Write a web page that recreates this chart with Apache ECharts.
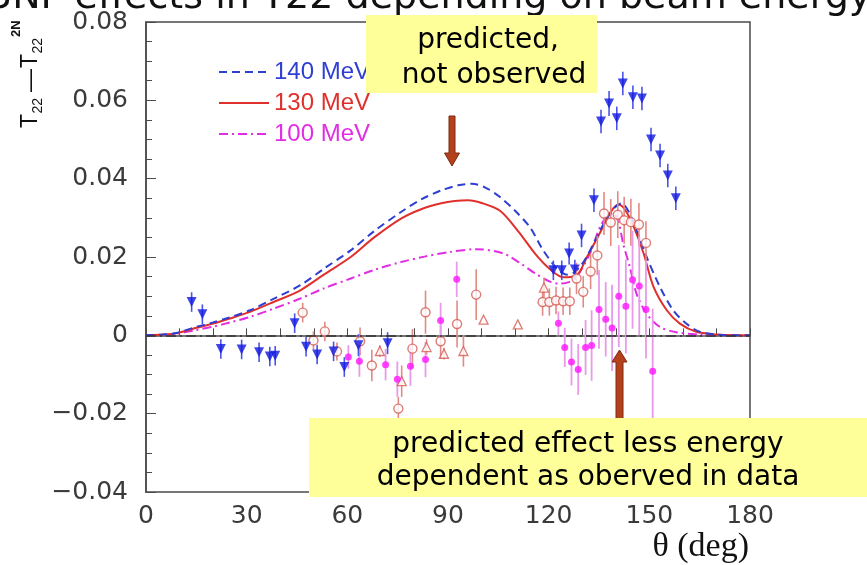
<!DOCTYPE html>
<html>
<head>
<meta charset="utf-8">
<script src="https://cdn.jsdelivr.net/npm/echarts@6/dist/echarts.min.js"></script>
<style>
  html, body { margin: 0; padding: 0; background: #ffffff; }
  #chart { width: 867px; height: 565px; }
</style>
</head>
<body>
<div id="chart"></div>
<script>
// Axis ticks (degrees / T22 difference)
const xTickStep = 30;
const yTickStep = 0.02;

// Calculated 3NF effect curves: [theta (deg), T22 - T22(2N)]
const curve140 = [[0,0],[5,0.0002],[9,0.0006],[14,0.0019],[20,0.0033],[25,0.0046],[31,0.0064],[38,0.0093],[46,0.0128],[53,0.0170],[61,0.0217],[68,0.0266],[76,0.0315],[82,0.0347],[88,0.0370],[93,0.0383],[97,0.0387],[101,0.0378],[105.5,0.0353],[110,0.0318],[114.5,0.0275],[118,0.0222],[121.5,0.0180],[123.5,0.0163],[125.5,0.0155],[127.5,0.0160],[129.5,0.0177],[131.5,0.0203],[134,0.0245],[137,0.0294],[139.5,0.0325],[141.7,0.0337],[143.7,0.0318],[146.2,0.0268],[149.2,0.0200],[153.2,0.0123],[157.1,0.0064],[161,0.0030],[165,0.0009],[170,0.0002],[175,0],[180,0]];
const curve130 = [[0,0],[5,0.0002],[9,0.0005],[14,0.0017],[20,0.0030],[25,0.0043],[31,0.0060],[38,0.0085],[46,0.0115],[53,0.0155],[61,0.0200],[68,0.0250],[76,0.0298],[82,0.0322],[88,0.0337],[92,0.0343],[96,0.0345],[100,0.0338],[105.5,0.0318],[111,0.0265],[116,0.0208],[120.5,0.0168],[124.5,0.0148],[128.5,0.0154],[131.3,0.0198],[135.3,0.0262],[138.5,0.0315],[140.8,0.0334],[142.8,0.0320],[145.4,0.0276],[148.3,0.0209],[151.2,0.0125],[155.2,0.0064],[159.1,0.0030],[164,0.0009],[170,0.0002],[175,0],[180,0]];
const curve100 = [[0,0],[5,0.0001],[9,0.0004],[14,0.0012],[20,0.0022],[25,0.0033],[31,0.0047],[38,0.0068],[46,0.0094],[53,0.0120],[61,0.0145],[68,0.0167],[76,0.0187],[83,0.0201],[90.6,0.0213],[98.5,0.0220],[106.5,0.0209],[111.4,0.0185],[116,0.0158],[120.4,0.0137],[123.4,0.0132],[126,0.0136],[128.3,0.0149],[132.3,0.0209],[135.3,0.0277],[137.5,0.0305],[139.2,0.0312],[140.8,0.0290],[142.2,0.0234],[144.2,0.0174],[146.2,0.0106],[149.2,0.0055],[153.2,0.0021],[158,0.0008],[165,0.0002],[172,0],[180,0]];

// Measured data: [theta, value, error]
const blueTriangles = [[13.6,0.0085,0.0025],[16.8,0.0054,0.0025],[22.3,-0.0035,0.0025],[28.5,-0.0036,0.0025],[33.7,-0.0043,0.0025],[36.9,-0.0054,0.0025],[38.5,-0.0052,0.0025],[44.3,0.0031,0.0025],[47.7,-0.0029,0.0025],[51.0,-0.0049,0.0025],[55.9,-0.0041,0.0025],[59.1,-0.0081,0.0025],[63.3,-0.0025,0.0028],[72.0,-0.0020,0.0028],[121.4,0.0166,0.0025],[123.9,0.0166,0.0025],[126.1,0.0209,0.0028],[127.8,0.0168,0.0025],[129.8,0.0255,0.0030],[133.5,0.0345,0.0030],[135.6,0.0546,0.0030],[138.0,0.0592,0.0032],[140.3,0.0554,0.0030],[142.1,0.0643,0.0030],[145.1,0.0608,0.0030],[147.8,0.0605,0.0030],[150.5,0.0500,0.0030],[153.2,0.0459,0.0030],[155.5,0.0408,0.0030],[157.9,0.0350,0.0030]];
const openCircles = [[46.7,0.0058,0.0025],[49.9,-0.0013,0.0023],[53.3,0.0010,0.0025],[56.9,-0.0041,0.0023],[63.8,-0.0015,0.0035],[67.3,-0.0077,0.0040],[75.2,-0.0187,0.0030],[79.4,-0.0034,0.0050],[83.3,0.0059,0.0055],[87.8,-0.0015,0.0045],[92.7,0.0029,0.0060],[98.4,0.0104,0.0065],[118.2,0.0085,0.0035],[120.2,0.0085,0.0035],[122.2,0.0089,0.0035],[124.3,0.0087,0.0035],[126.3,0.0087,0.0035],[128.3,0.0145,0.0040],[130.3,0.0111,0.0040],[132.5,0.0163,0.0045],[134.5,0.0204,0.0050],[136.5,0.0311,0.0055],[138.5,0.0288,0.0060],[140.6,0.0308,0.0060],[142.5,0.0294,0.0060],[144.5,0.0289,0.0060],[146.9,0.0283,0.0055],[149.0,0.0236,0.0055]];
const openTriangles = [[69.7,-0.0040,0.0015],[76.2,-0.0117,0.0040],[83.6,-0.0030,0.0020],[88.8,-0.0047,0.0015],[94.6,-0.0040,0.0040],[100.6,0.0040,0],[110.8,0.0028,0],[118.6,0.0122,0.0025]];
const magentaDots = [[60.3,-0.0055,0.0030],[63.6,-0.0066,0.0040],[71.4,-0.0075,0.0040],[74.9,-0.0112,0.0045],[78.8,-0.0079,0.0050],[83.3,-0.0062,0.0045],[87.8,0.0038,0.0045],[92.6,0.0143,0.0045],[122.9,0.0031,0.0030],[124.8,-0.0031,0.0050],[126.8,-0.0068,0.0060],[128.8,-0.0087,0.0065],[131.0,-0.0031,0.0070],[132.8,-0.0026,0.0090],[135.0,0.0066,0.0100],[137.0,0.0041,0.0095],[138.9,0.0019,0.0110],[140.9,0.0100,0.0130],[143.0,0.0074,0.0120],[145.0,0.0142,0.0125],[147.0,0.0126,0.0125],[149.0,0.0066,0.0125],[151.0,-0.0092,0.0160]];

const C140 = '#2f3fd2', C130 = '#e0302c', C100 = '#e22ee2';
const SANS = 'Liberation Sans, Arial, sans-serif';
const SLIDE = 'DejaVu Sans, Verdana, sans-serif';

// vertical error bars drawn through the axis scales
function errorBars(data, color, width) {
  return {
    type: 'custom', data: data, silent: true, z: 3,
    encode: { x: 0, y: 1 },
    renderItem: function (params, api) {
      const x = api.value(0), y = api.value(1), e = api.value(2);
      if (!e) return null;
      const a = api.coord([x, y + e]);
      const b = api.coord([x, y - e]);
      return { type: 'line', shape: { x1: a[0], y1: a[1], x2: b[0], y2: b[1] },
               style: { stroke: color, lineWidth: width } };
    }
  };
}

const chart = echarts.init(document.getElementById('chart'), null, { renderer: 'canvas' });

chart.setOption({
  animation: false,
  backgroundColor: '#ffffff',
  grid: { left: 146, right: 117, top: 22, bottom: 73, show: true,
          borderColor: '#4a4a4a', borderWidth: 1.5, backgroundColor: 'transparent' },
  xAxis: {
    type: 'value', min: 0, max: 180, interval: xTickStep,
    axisLine: { show: true, lineStyle: { color: '#4a4a4a', width: 1.5 } },
    axisTick: { show: true, inside: true, length: 7, lineStyle: { color: '#4a4a4a' } },
    minorTick: { show: true, splitNumber: 3, length: 7, lineStyle: { color: '#4a4a4a' } },
    splitLine: { show: false },
    axisLabel: { margin: 12, fontFamily: SLIDE, fontSize: 25, color: '#3a3a3a' }
  },
  yAxis: {
    type: 'value', min: -0.04, max: 0.08, interval: yTickStep,
    axisLine: { show: true, lineStyle: { color: '#4a4a4a', width: 1.5 } },
    axisTick: { show: true, inside: true, length: 10, lineStyle: { color: '#4a4a4a' } },
    minorTick: { show: true, splitNumber: 4, length: 6, lineStyle: { color: '#4a4a4a' } },
    splitLine: { show: false },
    axisLabel: {
      margin: 18, fontFamily: SLIDE, fontSize: 25, color: '#3a3a3a',
      formatter: function (v) {
        if (Math.abs(v) < 1e-9) return '0';
        return (v < 0 ? '\u22120' : '0') + Math.abs(v).toFixed(2).slice(1);
      }
    }
  },
  legend: {
    orient: 'vertical', left: 213, top: 55, itemWidth: 50, itemHeight: 14, itemGap: 7,
    selectedMode: false,
    itemStyle: { opacity: 0, color: 'transparent', borderWidth: 0 },
    textStyle: { fontFamily: SANS, fontSize: 24, lineHeight: 24 },
    data: [
      { name: '140 MeV', textStyle: { color: C140 } },
      { name: '130 MeV', textStyle: { color: C130 } },
      { name: '100 MeV', textStyle: { color: C100 } }
    ]
  },
  series: [
    {
      type: 'line', name: '100 MeV', data: curve100, showSymbol: false, symbol: 'none', smooth: 0.3, z: 2,
      lineStyle: { color: C100, width: 2, type: [9, 4, 2, 4] }, itemStyle: { color: C100 },
      markLine: {
        silent: true, symbol: 'none', label: { show: false },
        lineStyle: { color: '#333333', width: 1.5, type: [10, 4, 2, 4] },
        data: [{ yAxis: 0 }]
      }
    },
    {
      type: 'line', name: '130 MeV', data: curve130, showSymbol: false, symbol: 'none', smooth: 0.3, z: 2,
      lineStyle: { color: C130, width: 2 }, itemStyle: { color: C130 }
    },
    {
      type: 'line', name: '140 MeV', data: curve140, showSymbol: false, symbol: 'none', smooth: 0.3, z: 2,
      lineStyle: { color: C140, width: 2, type: [8, 5] }, itemStyle: { color: C140 }
    },
    errorBars(openCircles, '#e28a84', 1.6),
    errorBars(openTriangles, '#e28a84', 1.6),
    errorBars(magentaDots, '#e79ae7', 1.8),
    errorBars(blueTriangles, '#4a55e6', 1.6),
    {
      type: 'scatter', data: openCircles, encode: { x: 0, y: 1 }, z: 4,
      symbol: 'circle', symbolSize: 9,
      itemStyle: { color: '#ffffff', borderColor: '#d65a52', borderWidth: 1.4 }
    },
    {
      type: 'scatter', data: openTriangles, encode: { x: 0, y: 1 }, z: 4,
      symbol: 'triangle', symbolSize: 9,
      itemStyle: { color: '#ffffff', borderColor: '#d65a52', borderWidth: 1.3 }
    },
    {
      type: 'scatter', data: magentaDots, encode: { x: 0, y: 1 }, z: 4,
      symbol: 'circle', symbolSize: 7,
      itemStyle: { color: '#ff14ff' }
    },
    {
      type: 'scatter', data: blueTriangles, encode: { x: 0, y: 1 }, z: 4,
      symbol: 'triangle', symbolRotate: 180, symbolSize: [10, 10],
      itemStyle: { color: '#1018e0' }
    }
  ],
  graphic: [
    // slide heading, clipped by the top edge
    { type: 'text', x: -12, y: -2, z: 100,
      style: { text: '3NF effects in T22 depending on beam energy', font: '38px ' + SLIDE,
               fill: '#111111', verticalAlign: 'middle', align: 'left' } },
    // y axis title  T22 - T22^2N  (rotated)
    { type: 'group', x: 1, y: 0, rotation: Math.PI / 2, z: 100, children: [
      { type: 'text', x: -128, y: 29.5, style: { text: 'T', font: '23px ' + SANS, fill: '#111', align: 'left', verticalAlign: 'middle' } },
      { type: 'text', x: -113.5, y: 37, style: { text: '22', font: '14px ' + SANS, fill: '#111', align: 'left', verticalAlign: 'middle' } },
      { type: 'text', x: -92, y: 29.5, style: { text: '\u2014', font: '23px ' + SANS, fill: '#111', align: 'left', verticalAlign: 'middle' } },
      { type: 'text', x: -68, y: 29.5, style: { text: 'T', font: '23px ' + SANS, fill: '#111', align: 'left', verticalAlign: 'middle' } },
      { type: 'text', x: -53.5, y: 37, style: { text: '22', font: '14px ' + SANS, fill: '#111', align: 'left', verticalAlign: 'middle' } },
      { type: 'text', x: -37, y: 15.5, style: { text: '2N', font: 'bold 13px ' + SANS, fill: '#111', align: 'left', verticalAlign: 'middle' } }
    ] },
    // x axis title
    { type: 'text', x: 749, y: 547, z: 100,
      style: { text: '\u03b8 (deg)', font: '34px Liberation Serif, Times New Roman, serif',
               fill: '#111', align: 'right', verticalAlign: 'middle' } },
    // upper note
    { type: 'rect', shape: { x: 366, y: 15, width: 231, height: 78 }, z: 100,
      style: { fill: '#ffff99' } },
    { type: 'text', x: 488, y: 40.5, z: 101,
      style: { text: 'predicted,', font: '28px ' + SLIDE, fill: '#000', align: 'center', verticalAlign: 'middle' } },
    { type: 'text', x: 494, y: 75.5, z: 101,
      style: { text: 'not observed', font: '28px ' + SLIDE, fill: '#000', align: 'center', verticalAlign: 'middle' } },
    // arrow pointing down to the broad maximum
    { type: 'polygon', z: 100,
      shape: { points: [[449, 116], [455, 116], [455, 153], [459.5, 153], [452, 166], [444.5, 153], [449, 153]] },
      style: { fill: '#b5401c', stroke: '#7c2a12', lineWidth: 1 } },
    // arrow pointing up to the backward-angle data
    { type: 'polygon', z: 100,
      shape: { points: [[616, 420], [623, 420], [623, 362], [627, 362], [619.5, 350], [612, 362], [616, 362]] },
      style: { fill: '#b5401c', stroke: '#7c2a12', lineWidth: 1 } },
    // lower note
    { type: 'rect', shape: { x: 309, y: 418, width: 560, height: 79 }, z: 100,
      style: { fill: '#ffff99' } },
    { type: 'text', x: 588, y: 444.5, z: 101,
      style: { text: 'predicted effect less energy', font: '28px ' + SLIDE, fill: '#000', align: 'center', verticalAlign: 'middle' } },
    { type: 'text', x: 588, y: 477.5, z: 101,
      style: { text: 'dependent as oberved in data', font: '28px ' + SLIDE, fill: '#000', align: 'center', verticalAlign: 'middle' } }
  ]
});
</script>
</body>
</html>
